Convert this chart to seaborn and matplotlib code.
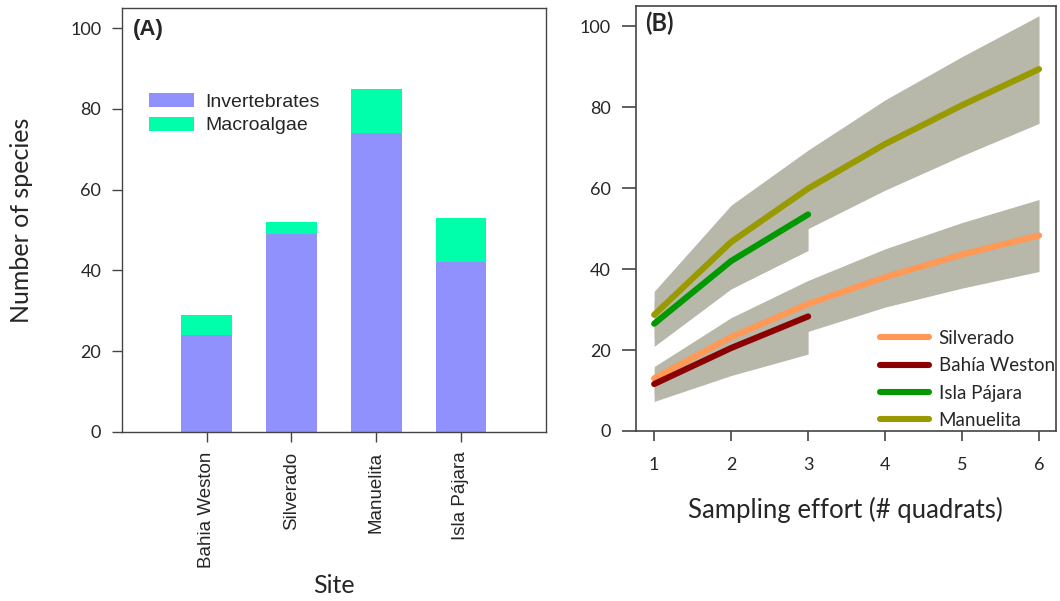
import matplotlib
matplotlib.use("Agg")
import matplotlib.pyplot as plt
import seaborn as sns
import pandas as pd
import numpy as np

# ---------------- data ----------------
sites = ["Bahia Weston", "Silverado", "Manuelita", "Isla Pájara"]
invertebrates = [24, 49, 74, 42]
macroalgae = [5, 3, 11, 11]

effort_long = [1, 2, 3, 4, 5, 6]
effort_short = [1, 2, 3]

silverado_mean = [13.0, 23.2, 31.4, 38.0, 43.6, 48.3]
silverado_low = [9.0, 17.0, 24.6, 30.6, 35.3, 39.4]
silverado_high = [15.9, 28.0, 37.2, 45.0, 51.5, 57.2]

bahia_mean = [11.6, 20.5, 28.3]
bahia_low = [7.3, 13.7, 19.0]
bahia_high = [14.0, 24.0, 32.0]

isla_mean = [26.5, 42.0, 53.5]
isla_low = [20.9, 35.1, 44.6]
isla_high = [32.0, 49.0, 62.0]

manuelita_mean = [28.7, 46.7, 59.9, 70.9, 80.5, 89.4]
manuelita_low = [23.0, 38.0, 50.0, 59.5, 68.0, 76.0]
manuelita_high = [34.5, 55.8, 69.4, 81.8, 92.5, 102.6]

y_ticks = [0, 20, 40, 60, 80, 100]

# ---------------- style ----------------
sns.set_style("white")
plt.rcParams["font.family"] = ["Lato", "DejaVu Sans"]

C_INV = "#9191fd"
C_MAC = "#00ffaa"
C_BAND = "#b7b7aa"
C_SIL = "#ff9955"
C_BAH = "#8b0000"
C_ISL = "#009900"
C_MAN = "#999900"
SPINE = "#444444"

fig = plt.figure(figsize=(10.6, 6.01), dpi=100)
axA = fig.add_axes([0.1151, 0.2812, 0.3997, 0.7055])
axB = fig.add_axes([0.5997, 0.2829, 0.3965, 0.7071])

# ---------------- panel A ----------------
dfA = pd.DataFrame({"site": sites, "inv": invertebrates, "mac": macroalgae})
dfA["total"] = dfA["inv"] + dfA["mac"]
sns.barplot(data=dfA, x="site", y="total", order=sites, color=C_MAC,
            saturation=1, width=0.6, ax=axA, label="Macroalgae")
sns.barplot(data=dfA, x="site", y="inv", order=sites, color=C_INV,
            saturation=1, width=0.6, ax=axA, label="Invertebrates")
for p in axA.patches:
    p.set_edgecolor("none")
axA.set_xlim(-1, 4)
axA.set_ylim(0, 105)
axA.set_yticks(y_ticks)
axA.set_xticks(range(len(sites)))
axA.set_xticklabels(sites, rotation=90, fontfamily=["Liberation Sans"], fontsize=13.5)
axA.tick_params(axis="y", labelsize=13, length=7, width=1, color=SPINE, pad=8,
                left=True, direction="out")
axA.tick_params(axis="x", length=7, width=1, color=SPINE, pad=7,
                bottom=True, direction="out")
axA.set_xlabel("Site", fontsize=18, va="center")
axA.set_ylabel("Number of species", fontsize=18, va="center")
axA.xaxis.set_label_coords(0.5, -0.363)
axA.yaxis.set_label_coords(-0.238, 0.5)
for s in axA.spines.values():
    s.set_visible(True)
    s.set_color(SPINE)
    s.set_linewidth(1)
h, l = axA.get_legend_handles_labels()
order = [l.index("Invertebrates"), l.index("Macroalgae")]
axA.legend([h[i] for i in order], [l[i] for i in order], loc="upper left",
           bbox_to_anchor=(0.064, 0.80), frameon=False,
           prop={"family": ["Liberation Sans"], "size": 14},
           handlelength=2.3, handleheight=0.72, handletextpad=0.6,
           labelspacing=0.32, borderaxespad=0, borderpad=0)
axA.text(0.025, 0.975, "(A)", transform=axA.transAxes, fontsize=16,
         fontweight="bold", fontfamily=["Liberation Sans"], va="top", ha="left")

# ---------------- panel B ----------------
bands = [
    (effort_long, manuelita_low, manuelita_high),
    (effort_short, isla_low, isla_high),
    (effort_long, silverado_low, silverado_high),
    (effort_short, bahia_low, bahia_high),
]
for xs, lo, hi in bands:
    axB.fill_between(xs, lo, hi, color=C_BAND, linewidth=0, zorder=1)

series = [
    ("Silverado", effort_long, silverado_mean, C_SIL),
    ("Manuelita", effort_long, manuelita_mean, C_MAN),
    ("Bahía Weston", effort_short, bahia_mean, C_BAH),
    ("Isla Pájara", effort_short, isla_mean, C_ISL),
]
rows = []
for name, xs, ys, _ in series:
    for x, y in zip(xs, ys):
        rows.append({"effort": x, "species": y, "site": name})
dfB = pd.DataFrame(rows)
palette = {name: c for name, _, _, c in series}
for name, _, _, _ in series:
    sns.lineplot(data=dfB[dfB["site"] == name], x="effort", y="species",
                 color=palette[name], linewidth=4.4, ax=axB, zorder=3,
                 solid_capstyle="round", label=name)

axB.set_xlim(0.76, 6.22)
axB.set_ylim(0, 105)
axB.set_xticks(effort_long)
axB.set_yticks(y_ticks)
axB.tick_params(axis="both", labelsize=13, length=10, width=1.2, color=SPINE,
                direction="out", left=True, bottom=True)
axB.tick_params(axis="y", pad=8)
axB.tick_params(axis="x", length=7, pad=12)
axB.set_xlabel("Sampling effort (# quadrats)", fontsize=18.5, va="center")
axB.set_ylabel("")
axB.xaxis.set_label_coords(0.5, -0.186)
for s in axB.spines.values():
    s.set_visible(True)
    s.set_color(SPINE)
    s.set_linewidth(1.2)
hB, lB = axB.get_legend_handles_labels()
legend_order = ["Silverado", "Bahía Weston", "Isla Pájara", "Manuelita"]
hmap = dict(zip(lB, hB))
axB.legend([hmap[n] for n in legend_order], legend_order, loc="lower right",
           bbox_to_anchor=(1.006, -0.004), frameon=False, fontsize=13.5,
           handlelength=2.6, handletextpad=0.5, labelspacing=0.55,
           borderaxespad=0, borderpad=0.2)
axB.text(0.022, 0.988, "(B)", transform=axB.transAxes, fontsize=17,
         fontweight="bold", va="top", ha="left")

fig.savefig("out.png", dpi=100)
